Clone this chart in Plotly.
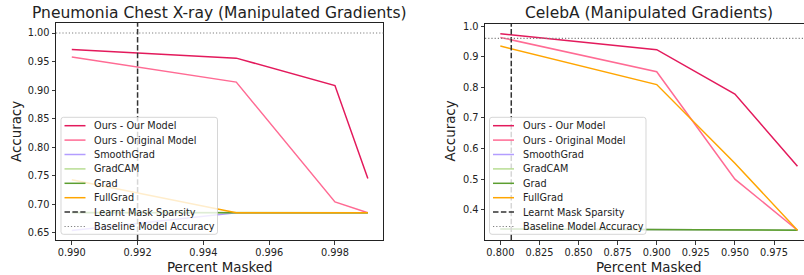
import plotly.graph_objects as go

# ---------------- data ----------------
series_names = ["Ours - Our Model", "Ours - Original Model", "SmoothGrad", "GradCAM", "Grad", "FullGrad"]
series_colors = ["#e31a5c", "#ff6b94", "#b39dff", "#b8dd93", "#5c9e30", "#ffa500"]

# Pneumonia Chest X-ray
pneu_x = [0.990, 0.995, 0.998, 0.999]
pneu_ours_our = [0.971, 0.956, 0.908, 0.745]
pneu_ours_orig = [0.958, 0.914, 0.704, 0.685]
pneu_smoothgrad = [0.654, 0.685, 0.685, 0.685]
pneu_gradcam = [0.686, 0.685, 0.685, 0.685]
pneu_grad = [0.685, 0.685, 0.685, 0.685]
pneu_fullgrad = [0.743, 0.685, 0.685, 0.685]
pneu_sparsity = 0.992
pneu_baseline = 1.00

# CelebA
celeb_x = [0.80, 0.90, 0.95, 0.99]
celeb_ours_our = [0.975, 0.923, 0.778, 0.542]
celeb_ours_orig = [0.963, 0.851, 0.500, 0.333]
celeb_smoothgrad = [0.337, 0.336, 0.335, 0.333]
celeb_gradcam = [0.337, 0.336, 0.335, 0.333]
celeb_grad = [0.337, 0.336, 0.335, 0.333]
celeb_fullgrad = [0.935, 0.809, 0.552, 0.333]
celeb_sparsity = 0.807
celeb_baseline = 0.960

pneu_xticks = [0.990, 0.992, 0.994, 0.996, 0.998]
pneu_yticks = [0.65, 0.70, 0.75, 0.80, 0.85, 0.90, 0.95, 1.00]
celeb_xticks = [0.800, 0.825, 0.850, 0.875, 0.900, 0.925, 0.950, 0.975]
celeb_yticks = [0.4, 0.5, 0.6, 0.7, 0.8, 0.9, 1.0]

legend_labels = series_names + ["Learnt Mask Sparsity", "Baseline Model Accuracy"]

# ---------------- layout geometry (pixels) ----------------
W, H = 804, 275
ML, MR, MT, MB = 56, 0, 23, 35
PW = W - ML - MR
PH = H - MT - MB
FONT = "DejaVu Sans"
TXT = "#222222"


def px(x):
    return (x - ML) / PW


def py(y):
    return (H - MB - y) / PH


fig = go.Figure()

pneu_series = [pneu_ours_our, pneu_ours_orig, pneu_smoothgrad, pneu_gradcam, pneu_grad, pneu_fullgrad]
celeb_series = [celeb_ours_our, celeb_ours_orig, celeb_smoothgrad, celeb_gradcam, celeb_grad, celeb_fullgrad]

for name, color, ys in zip(series_names, series_colors, pneu_series):
    fig.add_trace(go.Scatter(x=pneu_x, y=ys, mode="lines", name=name,
                             line=dict(color=color, width=1.5),
                             xaxis="x", yaxis="y", showlegend=False))
for name, color, ys in zip(series_names, series_colors, celeb_series):
    fig.add_trace(go.Scatter(x=celeb_x, y=ys, mode="lines", name=name,
                             line=dict(color=color, width=1.5),
                             xaxis="x2", yaxis="y2", showlegend=False))

DASH = "5.5px,2.4px"
DOT = "1.2px,2px"
DASH_COLOR = "#333333"
DOT_COLOR = "#808080"

shapes = []
# reference lines
for xr, yr, sp, bl in [("x", "y", pneu_sparsity, pneu_baseline), ("x2", "y2", celeb_sparsity, celeb_baseline)]:
    shapes.append(dict(type="line", xref=xr, yref=yr + " domain", x0=sp, x1=sp, y0=0, y1=1,
                       line=dict(color=DASH_COLOR, width=1.5, dash=DASH), layer="above"))
    shapes.append(dict(type="line", xref=xr + " domain", yref=yr, x0=0, x1=1, y0=bl, y1=bl,
                       line=dict(color=DOT_COLOR, width=1.1, dash=DOT), layer="above"))

annotations = []


def rounded_box(x0, y0, x1, y1, r=2.5):
    # pixel coords -> paper path with rounded corners
    def P(x, y):
        return f"{px(x):.5f},{py(y):.5f}"
    return ("M " + P(x0 + r, y0) + " L " + P(x1 - r, y0) + " Q " + P(x1, y0) + " " + P(x1, y0 + r) +
            " L " + P(x1, y1 - r) + " Q " + P(x1, y1) + " " + P(x1 - r, y1) +
            " L " + P(x0 + r, y1) + " Q " + P(x0, y1) + " " + P(x0, y1 - r) +
            " L " + P(x0, y0 + r) + " Q " + P(x0, y0) + " " + P(x0 + r, y0) + " Z")


def add_legend(bx, by):
    bw, bh = 156.5, 117.0
    shapes.append(dict(type="path", xref="paper", yref="paper", path=rounded_box(bx, by, bx + bw, by + bh),
                       fillcolor="rgba(255,255,255,0.8)", line=dict(color="rgba(204,204,204,0.8)", width=1),
                       layer="above"))
    styles = [dict(color=c, width=1.5) for c in series_colors]
    styles.append(dict(color=DASH_COLOR, width=1.5, dash=DASH))
    styles.append(dict(color=DOT_COLOR, width=1.1, dash=DOT))
    for i, (lab, st) in enumerate(zip(legend_labels, styles)):
        yy = by + 8.4 + i * 14.4
        shapes.append(dict(type="line", xref="paper", yref="paper", x0=px(bx + 3.5), x1=px(bx + 24.5),
                           y0=py(yy), y1=py(yy), line=st, layer="above"))
        annotations.append(dict(text=lab, xref="paper", yref="paper", x=px(bx + 31.2), y=py(yy),
                                xanchor="left", yanchor="middle", showarrow=False,
                                font=dict(family=FONT, size=9.7, color=TXT)))


add_legend(61, 117.3)
add_legend(489.5, 117.3)

# titles
annotations.append(dict(text="Pneumonia Chest X-ray (Manipulated Gradients)", xref="paper", yref="paper",
                        x=px((56 + 383.3) / 2), y=py(12.8), xanchor="center", yanchor="middle", showarrow=False,
                        font=dict(family=FONT, size=15.5, color=TXT)))
annotations.append(dict(text="CelebA (Manipulated Gradients)", xref="paper", yref="paper",
                        x=px((485 + 812.5) / 2), y=py(12.8), xanchor="center", yanchor="middle", showarrow=False,
                        font=dict(family=FONT, size=15.5, color=TXT)))
# axis titles
for cx in [(56 + 383.3) / 2, (485 + 812.5) / 2]:
    annotations.append(dict(text="Percent Masked", xref="paper", yref="paper", x=px(cx), y=py(267),
                            xanchor="center", yanchor="middle", showarrow=False,
                            font=dict(family=FONT, size=13.4, color=TXT)))
for cx in [16.5, 450]:
    annotations.append(dict(text="Accuracy", xref="paper", yref="paper", x=px(cx), y=py(131.5),
                            xanchor="center", yanchor="middle", showarrow=False, textangle=-90,
                            font=dict(family=FONT, size=13.4, color=TXT)))

axis_common = dict(showgrid=False, zeroline=False, showline=True, linecolor="#222222", linewidth=1,
                   ticks="outside", ticklen=3.5, tickwidth=0.9, tickcolor="#222222",
                   tickfont=dict(family=FONT, size=9.8, color=TXT))

fig.update_layout(
    width=W, height=H,
    margin=dict(l=ML, r=MR, t=MT, b=MB, pad=0),
    paper_bgcolor="white", plot_bgcolor="white",
    showlegend=False,
    xaxis=dict(domain=[0, px(383.3)], anchor="y", range=[0.98952, 0.99947],
               tickvals=pneu_xticks, tickformat=".3f", mirror=True, **axis_common),
    yaxis=dict(domain=[0, 1], anchor="x", range=[0.6372, 1.0176],
               tickvals=pneu_yticks, tickformat=".2f", mirror=True, **axis_common),
    xaxis2=dict(domain=[px(485), 1], anchor="y2", range=[0.7902, 0.99418],
                tickvals=celeb_xticks, tickformat=".3f", mirror=True, **axis_common),
    yaxis2=dict(domain=[py(240), py(24)], anchor="x2", range=[0.301, 1.007],
                tickvals=celeb_yticks, tickformat=".1f", mirror=False, **axis_common),
    shapes=shapes,
    annotations=annotations,
)

fig.write_html("out.html",
               config={"displayModeBar": False, "staticPlot": True},
               post_script="document.body.style.margin='0';document.body.style.overflow='hidden';")
